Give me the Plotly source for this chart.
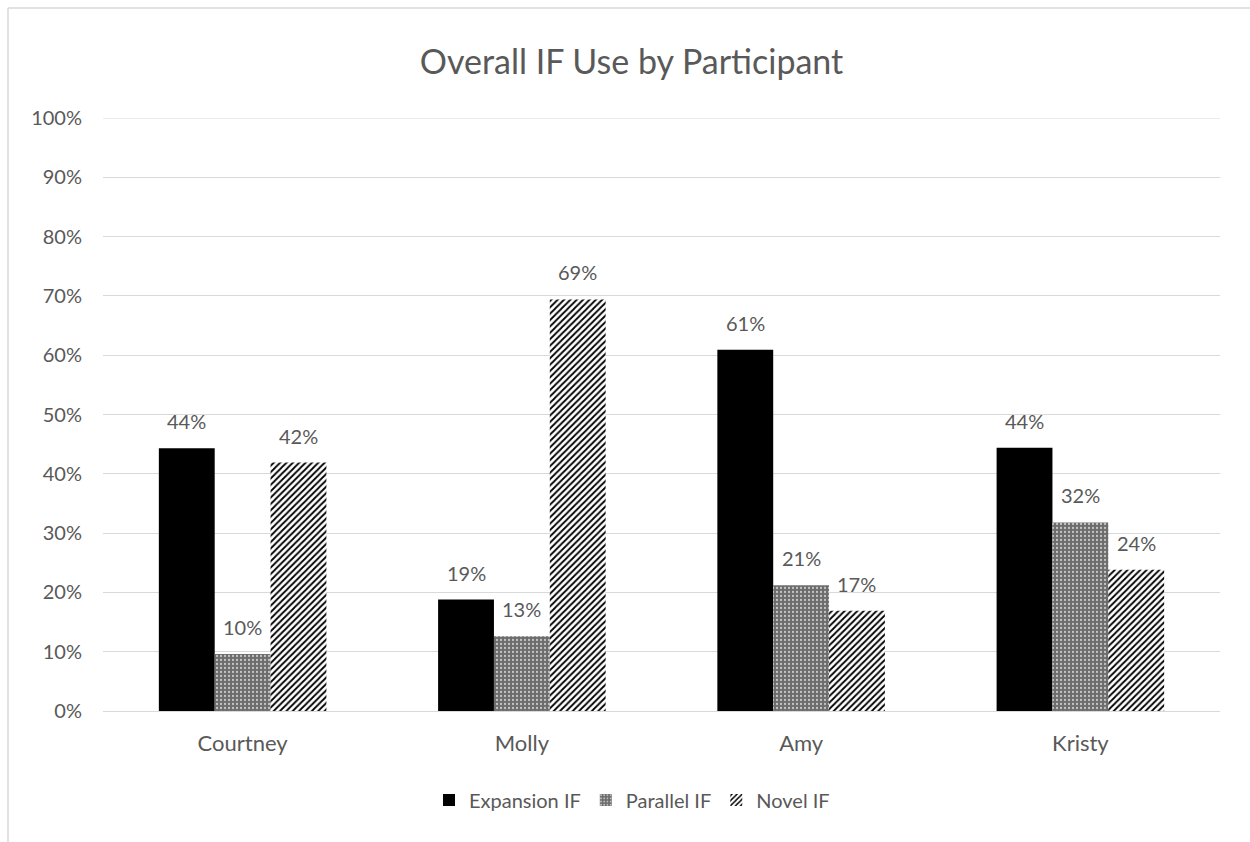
import plotly.graph_objects as go

# Participants and share of each IF type (fractions of all IF use)
participants = ["Courtney", "Molly", "Amy", "Kristy"]
expansion_if = [0.443, 0.188, 0.609, 0.444]
parallel_if = [0.096, 0.126, 0.212, 0.318]
novel_if = [0.419, 0.694, 0.169, 0.238]
series_names = ["Expansion IF", "Parallel IF", "Novel IF"]
y_ticks = [i / 10 for i in range(11)]

W, H = 1250, 842
M_L, M_R, M_T, M_B = 103, 30, 118, 131
FONT = "Lato, Carlito, Calibri, sans-serif"
TEXT_COLOR = "#595959"
GRID = "#d9d9d9"
FS = 20

BARGAP = 0.4
n_series = 3
plot_w = W - M_L - M_R
plot_h = H - M_T - M_B
cat_w = plot_w / len(participants)
bar_w = cat_w * (1 - BARGAP) / n_series

styles = [
    dict(color="black"),
    dict(color="#7a7a7a",
         pattern=dict(shape=".", fgcolor="#c4c4c4", bgcolor="#6c6c6c",
                      size=4, solidity=0.25, fillmode="replace")),
    dict(color="white",
         pattern=dict(shape="/", fgcolor="black", bgcolor="white",
                      size=4.5, solidity=0.4, fillmode="replace")),
]

fig = go.Figure()
all_values = [expansion_if, parallel_if, novel_if]
for name, vals, st in zip(series_names, all_values, styles):
    fig.add_trace(go.Bar(
        x=participants, y=vals, name=name,
        marker=dict(line=dict(width=0), **st),
        hoverinfo="skip",
    ))

# Value labels above each bar
annotations = []
for s_idx, vals in enumerate(all_values):
    offset = (s_idx - (n_series - 1) / 2) * bar_w
    for cat, v in zip(participants, vals):
        annotations.append(dict(
            x=cat, y=v, xref="x", yref="y",
            text=f"{round(v * 100):.0f}%",
            showarrow=False, xshift=offset, yshift=27,
            yanchor="middle", xanchor="center",
            font=dict(family=FONT, size=FS, color=TEXT_COLOR),
        ))

# Chart frame (top and left edges) and the top gridline
fx0 = (8 - M_L) / plot_w
fx1 = (W - M_L) / plot_w
fy_top = (H - M_B - 8) / plot_h
fy_bot = (H - M_B - H) / plot_h
shapes = [
    dict(type="line", xref="paper", yref="paper", x0=fx0, x1=fx1, y0=fy_top, y1=fy_top,
         line=dict(color=GRID, width=1.5)),
    dict(type="line", xref="paper", yref="paper", x0=fx0, x1=fx0, y0=fy_top, y1=fy_bot,
         line=dict(color=GRID, width=1.5)),
    dict(type="line", xref="paper", yref="y", x0=0, x1=1, y0=y_ticks[-1], y1=y_ticks[-1],
         line=dict(color=GRID, width=1.2), layer="below"),
]

fig.update_layout(
    width=W, height=H,
    margin=dict(l=M_L, r=M_R, t=M_T, b=M_B, autoexpand=False),
    paper_bgcolor="white", plot_bgcolor="white",
    barmode="group", bargap=BARGAP, bargroupgap=0,
    font=dict(family=FONT, size=FS, color=TEXT_COLOR),
    title=dict(text="Overall IF Use by Participant", x=(631.5 - M_L) / plot_w, xref="paper",
               xanchor="center", y=1 - 62 / H, yanchor="middle",
               font=dict(family=FONT, size=34, color=TEXT_COLOR)),
    legend=dict(orientation="h", xref="paper", x=(632 - M_L) / plot_w, xanchor="center",
                y=(H - M_B - 800) / plot_h,
                yanchor="middle", font=dict(family=FONT, size=FS, color=TEXT_COLOR),
                itemwidth=30, traceorder="normal"),
    annotations=annotations,
    shapes=shapes,
)
fig.update_xaxes(showgrid=False, showline=True, linecolor=GRID, linewidth=1,
                 ticks="", ticklabelstandoff=13,
                 tickfont=dict(family=FONT, size=22, color=TEXT_COLOR))
fig.update_yaxes(range=[0, 1], tickvals=y_ticks, tickformat=".0%",
                 showgrid=True, gridcolor=GRID, gridwidth=1, zeroline=False,
                 showline=False, ticks="", ticklabelstandoff=20,
                 tickfont=dict(family=FONT, size=FS, color=TEXT_COLOR))

fig.write_html("out.html")
